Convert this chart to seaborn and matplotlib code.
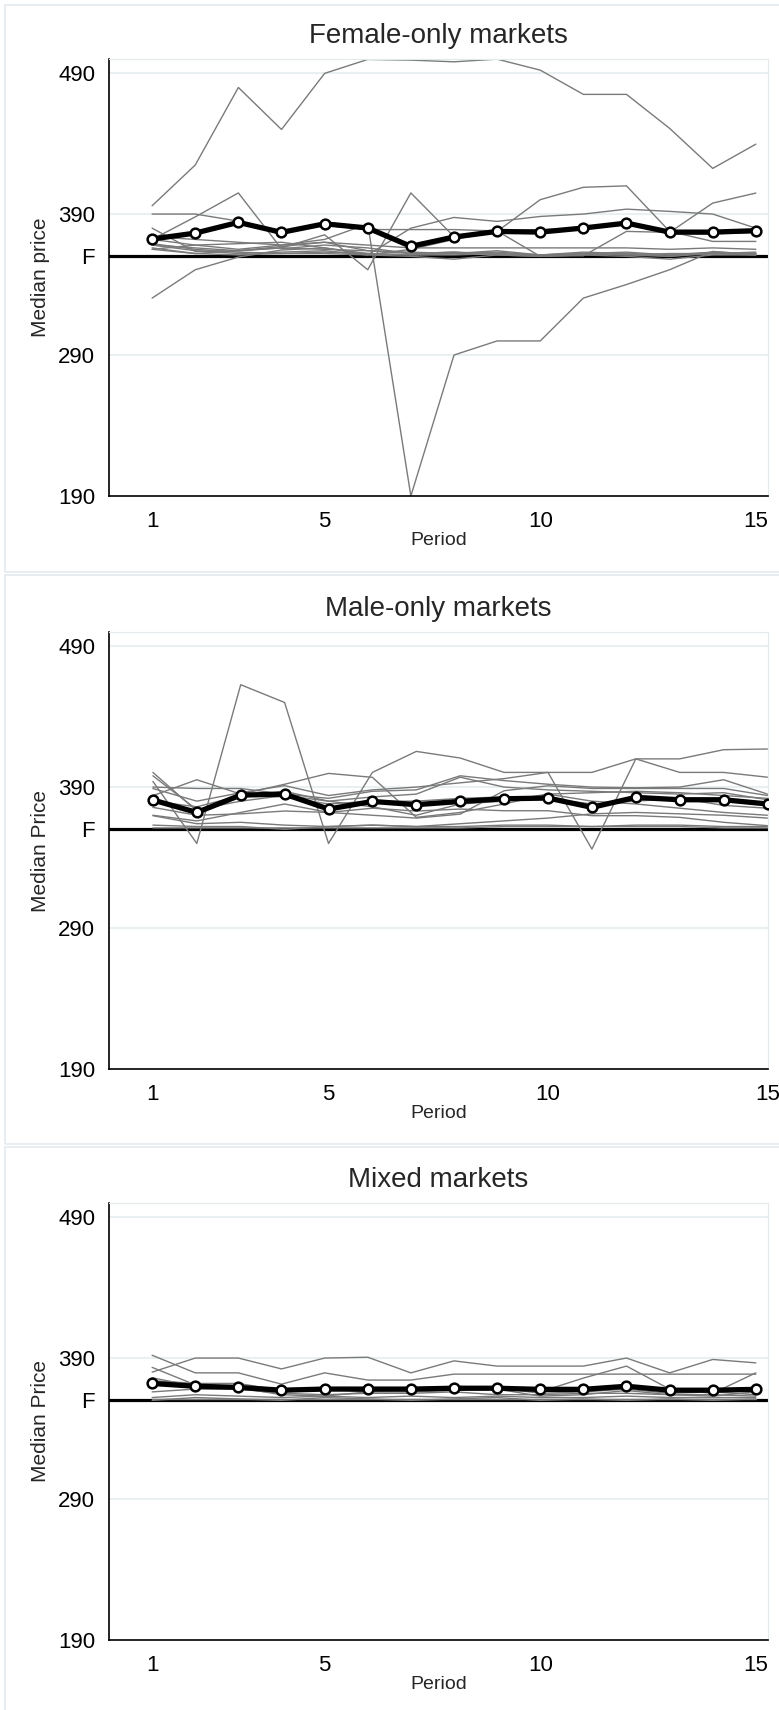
import matplotlib
matplotlib.use("Agg")
import matplotlib.pyplot as plt
from matplotlib.patches import Rectangle
import seaborn as sns
import pandas as pd

# Datos
periods = list(range(1, 16))
fair_price = 360  # línea "F"

female_markets = [
    [395.9, 424.8, 479.8, 450.0, 489.8, 499.7, 499.2, 498.0, 499.9, 492.1, 474.9, 474.9, 450.8, 422.4, 439.6],
    [372, 368, 365, 368, 372, 383, 190, 290, 300, 300, 330.4, 340, 350.5, 363.5, 361],
    [330.4, 350.5, 359.5, 364.5, 366, 362, 361, 362, 363, 361, 362, 363, 361, 362, 363],
    [390, 390, 385, 378, 382, 379, 379, 379, 378, 379, 380, 383, 376, 376, 377],
    [372, 388, 405, 365.4, 368, 366, 362, 363, 362, 361, 362, 361, 360, 362, 362],
    [368, 366, 364, 366, 375.3, 350.5, 405, 374, 378, 360, 361, 362, 361, 363, 362],
    [365, 368, 369, 370, 366, 361, 380, 387.6, 384.8, 388.3, 390, 393.5, 391.9, 390, 380],
    [368, 364, 362, 363, 364, 361, 365, 372, 377.7, 400.2, 409, 410, 377.7, 370.6, 370.6],
    [366, 362, 361, 362, 363, 362, 361, 361, 362, 360.4, 360.4, 377.7, 377, 397.8, 404.9],
    [365, 362, 364, 366, 365, 364, 363, 362, 364, 361, 363, 362, 360, 363, 362],
    [369, 365, 363, 362, 362, 361, 360, 358, 361, 360, 361, 360, 358, 361, 361],
    [374, 372, 370, 368, 370, 368, 366, 366, 366, 366, 366, 366, 365, 366, 365],
    [380, 363.5, 364, 367, 370, 364, 362, 363, 361, 360, 362, 361, 362, 362, 361],
]
female_median = [372.3, 376.5, 384.1, 377.0, 383.1, 380.1, 367.1, 373.7, 377.7, 377.2, 380.1, 383.6, 377.2, 377.2, 378.2]

male_markets = [
    [394, 350, 462.6, 450, 350, 400.4, 415.3, 410.6, 400.4, 400.4, 400.4, 410, 410, 416.5, 417],
    [389, 380, 386, 391, 384, 388, 390, 393, 396, 400.4, 346, 410, 400.4, 400.4, 397],
    [383.9, 395.2, 385, 392, 399.7, 396.9, 368.5, 372, 378, 385, 386, 387, 386, 384, 382],
    [390, 389, 389, 385, 382, 387, 388, 398, 394.6, 392, 390, 389.5, 390, 395.2, 385],
    [370, 366, 372, 378, 372, 370, 368, 370.8, 387.4, 390.9, 389, 389, 389, 389, 384],
    [375.6, 370, 371, 373, 372, 375, 373, 374.4, 373.2, 373.2, 369.7, 369.7, 368.5, 365, 362.6],
    [369.7, 364, 365, 363, 362, 363, 362, 364, 366, 368, 371, 372, 371, 370, 368],
    [363, 362, 362, 360, 362, 363, 362, 362, 363, 363, 362, 363, 363, 362, 362],
    [361, 361, 361, 361, 361, 361, 361, 361, 362, 362, 362, 362, 362, 361, 361],
    [380, 376, 384, 383, 378, 380, 380, 382, 383, 382, 378, 380, 382, 377, 375],
    [400.4, 373, 384, 387, 380, 376, 370, 378, 380, 385, 380, 378, 375, 372, 370],
    [398, 374, 380, 384, 380, 383, 385, 397, 390, 388, 387, 386, 385, 386, 381],
]
male_median = [380.8, 372.0, 384.3, 385.0, 374.4, 379.8, 377.5, 379.8, 381.7, 382.2, 375.6, 382.7, 381.0, 381.0, 378.0]

mixed_markets = [
    [380, 390, 390, 382.3, 390, 390.6, 379.5, 388, 384.3, 384.3, 384.3, 390, 379.5, 389, 386.6],
    [392, 379.5, 379.5, 371.5, 379.5, 374.4, 374.4, 378.6, 378.6, 378.6, 378.6, 378.6, 378.6, 378.6, 378.6],
    [383.4, 371, 370, 366, 368, 366, 368, 370, 369, 366, 375.8, 384.3, 368, 365, 379.5],
    [374, 372, 372, 367, 367, 368, 369, 369, 369, 365, 366, 368, 365, 366, 364],
    [366, 368, 368, 365, 364, 365, 365, 366, 364, 364, 365, 365, 364, 364, 363],
    [362, 364, 363, 362, 363, 362, 363, 362, 363, 362, 362, 363, 362, 362, 362],
    [361, 361, 361, 361, 361, 361, 361, 361, 361, 361, 361, 361, 361, 361, 361],
    [360, 362, 361, 360, 362, 361, 360, 361, 362, 360, 361, 360, 361, 360, 361],
    [376, 370, 369, 364, 363, 366, 366, 367, 368, 363, 364, 367, 364, 363, 366],
]
mixed_median = [372.0, 370.0, 369.2, 367.2, 368.0, 368.0, 368.0, 368.6, 368.6, 367.8, 367.8, 370.0, 367.2, 367.2, 367.8]

y_ticks = [190, 290, fair_price, 390, 490]
y_tick_labels = ["190", "290", "F", "390", "490"]
x_ticks = [1, 5, 10, 15]

sns.set_style("white")
plt.rcParams["font.family"] = ["Liberation Sans", "DejaVu Sans"]

W, H = 779, 1710
fig = plt.figure(figsize=(W / 100, H / 100), dpi=100)

# (título, etiqueta y, mercados, mediana, top px, límite x derecho, caja top px, caja bottom px)
paneles = [
    ("Female-only markets", "Median price", female_markets, female_median, 59, 15.27, 5, 572),
    ("Male-only markets", "Median Price", male_markets, male_median, 632, 15.0, 575, 1144),
    ("Mixed markets", "Median Price", mixed_markets, mixed_median, 1203, 15.27, 1147, 1716),
]

for titulo, ylab, mercados, mediana, top_px, xmax, caja_top, caja_bot in paneles:
    # Caja del panel (estilo Stata)
    fig.patches.append(Rectangle((5 / W, 1 - caja_bot / H), 1.0, (caja_bot - caja_top) / H,
                                 transform=fig.transFigure, fill=False,
                                 edgecolor="#e3eaed", linewidth=1.2))
    alto_px = 437
    ax = fig.add_axes([109 / W, 1 - (top_px + alto_px) / H, (767.5 - 109) / W, alto_px / H])

    filas = []
    for i, serie in enumerate(mercados):
        for p, v in zip(periods, serie):
            filas.append({"market": i, "period": p, "price": v})
    df = pd.DataFrame(filas)

    for g in [290, 390, 490]:
        ax.axhline(g, color="#e8f0f2", linewidth=1.5, zorder=0)
    ax.axhline(fair_price, color="black", linewidth=2.3, zorder=1)

    sns.lineplot(data=df, x="period", y="price", units="market", estimator=None,
                 color="#7a7a7a", linewidth=1.0, ax=ax, legend=False, zorder=2)
    sns.lineplot(x=periods, y=mediana, color="black", linewidth=3.8, marker="o",
                 markersize=7, markerfacecolor="white", markeredgecolor="black",
                 markeredgewidth=1.8, ax=ax, zorder=3)

    ax.set_xlim(0, xmax)
    ax.set_ylim(190, 500)
    ax.set_xticks(x_ticks)
    ax.set_xticklabels([str(t) for t in x_ticks])
    ax.set_yticks(y_ticks)
    ax.set_yticklabels(y_tick_labels)
    ax.tick_params(axis="both", direction="out", length=5, width=1, labelsize=16,
                   color="black", labelcolor="black")
    ax.tick_params(axis="x", pad=5.5)
    ax.tick_params(axis="y", pad=5)
    ax.set_title(titulo, fontsize=20, pad=11.5)
    ax.set_xlabel("Period", fontsize=14, labelpad=0)
    ax.set_ylabel(ylab, fontsize=15, labelpad=6)
    ax.spines["left"].set_color("black")
    ax.spines["bottom"].set_color("black")
    ax.spines["left"].set_linewidth(1.2)
    ax.spines["bottom"].set_linewidth(1.2)
    ax.spines["top"].set_color("#e3eaed")
    ax.spines["right"].set_color("#e3eaed")

fig.savefig("out.png", dpi=100)
plt.close(fig)
